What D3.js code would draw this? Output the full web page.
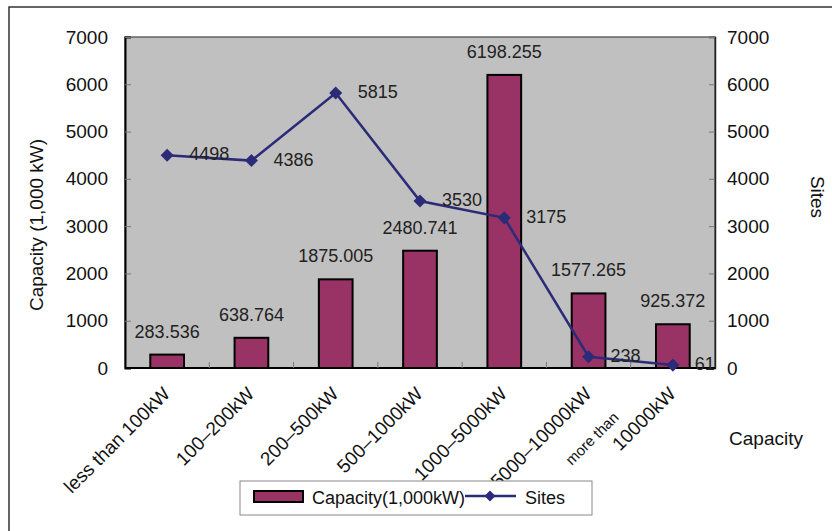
<!DOCTYPE html>
<html>
<head>
<meta charset="utf-8">
<script src="https://cdn.jsdelivr.net/npm/d3@7"></script>
<style>
  html, body { margin: 0; padding: 0; background: #fff; }
  svg { display: block; font-family: "Liberation Sans", Arial, sans-serif; }
</style>
</head>
<body>
<svg id="chart" width="832" height="531"></svg>
<script>
// Capacity classes (x axis)
const categories = ["less than 100kW", "100–200kW", "200–500kW", "500–1000kW",
                    "1000–5000kW", "5000–10000kW", "more than 10000kW"];
// Installed capacity per class, in 1,000 kW (bars, left axis)
const capacity = [283.536, 638.764, 1875.005, 2480.741, 6198.255, 1577.265, 925.372];
// Number of sites per class (line, right axis)
const sites = [4498, 4386, 5815, 3530, 3175, 238, 61];
// Shared tick values for both value axes
const tickValues = [0, 1000, 2000, 3000, 4000, 5000, 6000, 7000];

const svg = d3.select("#chart");
const plot = { left: 125, top: 37, right: 715, bottom: 368 };
const barColor = "#993366";
const lineColor = "#2b2b78";

// Outer chart frame (left and top edges fall inside the canvas)
svg.append("rect")
  .attr("x", 9).attr("y", 7).attr("width", 900).attr("height", 600)
  .attr("fill", "#fff").attr("stroke", "#333").attr("stroke-width", 1.5);

const x = d3.scaleBand().domain(categories).range([plot.left, plot.right]).padding(0);
const yL = d3.scaleLinear().domain([0, 7000]).range([plot.bottom, plot.top]);
const yR = d3.scaleLinear().domain([0, 7000]).range([plot.bottom, plot.top]);

// Plot area
svg.append("rect")
  .attr("x", plot.left).attr("y", plot.top)
  .attr("width", plot.right - plot.left).attr("height", plot.bottom - plot.top)
  .attr("fill", "#c0c0c0").attr("stroke", "#444").attr("stroke-width", 1.2);

// Left axis: inward ticks, labels outside
const leftAxis = svg.append("g").attr("transform", `translate(${plot.left},0)`)
  .call(d3.axisLeft(yL).tickValues(tickValues).tickSize(-6).tickPadding(17).tickFormat(d3.format("d")));
leftAxis.select(".domain").attr("stroke", "#000").attr("stroke-width", 2);
leftAxis.selectAll(".tick line").attr("stroke", "#777");
leftAxis.selectAll(".tick text").attr("font-size", 19).attr("fill", "#111")
  .attr("font-family", "Liberation Sans, Arial, sans-serif");

// Right axis
const rightAxis = svg.append("g").attr("transform", `translate(${plot.right},0)`)
  .call(d3.axisRight(yR).tickValues(tickValues).tickSize(-6).tickPadding(12).tickFormat(d3.format("d")));
rightAxis.select(".domain").attr("stroke", "#222").attr("stroke-width", 1.5);
rightAxis.selectAll(".tick line").attr("stroke", "#777");
rightAxis.selectAll(".tick text").attr("font-size", 19).attr("fill", "#111")
  .attr("font-family", "Liberation Sans, Arial, sans-serif");

// Bars
const barW = x.bandwidth() * 0.4;
svg.append("g").selectAll("rect").data(capacity).join("rect")
  .attr("x", (d, i) => x(categories[i]) + (x.bandwidth() - barW) / 2)
  .attr("y", d => yL(d))
  .attr("width", barW)
  .attr("height", d => yL(0) - yL(d))
  .attr("fill", barColor).attr("stroke", "#000").attr("stroke-width", 2);

// Bottom axis: ticks between categories, pointing up
const bottom = svg.append("g");
bottom.append("line")
  .attr("x1", plot.left).attr("x2", plot.right)
  .attr("y1", plot.bottom).attr("y2", plot.bottom)
  .attr("stroke", "#000").attr("stroke-width", 2);
bottom.selectAll("line.sep").data(categories.slice(1)).join("line")
  .attr("class", "sep")
  .attr("x1", d => x(d)).attr("x2", d => x(d))
  .attr("y1", plot.bottom).attr("y2", plot.bottom - 6)
  .attr("stroke", "#777");

// Category labels, rotated -45°
categories.forEach((c, i) => {
  const cx = x(c) + x.bandwidth() / 2;
  const g = svg.append("g").attr("transform", `translate(${cx + 4},${plot.bottom + 27}) rotate(-45)`);
  if (c.startsWith("more than ")) {
    g.append("text").attr("text-anchor", "end").attr("font-size", 19).attr("fill", "#111")
      .text(c.slice("more than ".length));
    g.append("text").attr("text-anchor", "end").attr("font-size", 15).attr("fill", "#111")
      .attr("x", -57).attr("y", -24).text("more than");
  } else {
    g.append("text").attr("text-anchor", "end").attr("font-size", 19).attr("fill", "#111").text(c);
  }
});

// Sites line with diamond markers
const line = d3.line()
  .x((d, i) => x(categories[i]) + x.bandwidth() / 2)
  .y(d => yR(d));
svg.append("path").datum(sites)
  .attr("d", line).attr("fill", "none").attr("stroke", lineColor).attr("stroke-width", 2.5);
const diamond = d3.symbol().type(d3.symbolSquare).size(85);
svg.append("g").selectAll("path").data(sites).join("path")
  .attr("d", diamond)
  .attr("transform", (d, i) => `translate(${x(categories[i]) + x.bandwidth() / 2},${yR(d)}) rotate(45)`)
  .attr("fill", lineColor);

// Bar value labels
svg.append("g").selectAll("text").data(capacity).join("text")
  .attr("x", (d, i) => x(categories[i]) + x.bandwidth() / 2)
  .attr("y", d => yL(d) - 17)
  .attr("text-anchor", "middle").attr("font-size", 18).attr("fill", "#222")
  .text(d => d3.format(".3f")(d));

// Site value labels, to the right of each marker
svg.append("g").selectAll("text").data(sites).join("text")
  .attr("x", (d, i) => x(categories[i]) + x.bandwidth() / 2 + 22)
  .attr("y", d => yR(d) + 5)
  .attr("font-size", 18).attr("fill", "#222")
  .text(d => d);

// Axis titles
svg.append("text")
  .attr("transform", "translate(43,225) rotate(-90)")
  .attr("text-anchor", "middle").attr("font-size", 19).attr("fill", "#111")
  .text("Capacity (1,000 kW)");
svg.append("text")
  .attr("transform", "translate(811,197) rotate(90)")
  .attr("text-anchor", "middle").attr("font-size", 19).attr("fill", "#111")
  .text("Sites");
svg.append("text")
  .attr("x", 766).attr("y", 445)
  .attr("text-anchor", "middle").attr("font-size", 19).attr("fill", "#111")
  .text("Capacity");

// Legend
const lg = svg.append("g");
lg.append("rect").attr("x", 240).attr("y", 481).attr("width", 352).attr("height", 34)
  .attr("fill", "#fff").attr("stroke", "#888").attr("stroke-width", 1);
lg.append("rect").attr("x", 254).attr("y", 491).attr("width", 49).attr("height", 11)
  .attr("fill", barColor).attr("stroke", "#000").attr("stroke-width", 2);
lg.append("text").attr("x", 312).attr("y", 504).attr("font-size", 18).attr("fill", "#111")
  .text("Capacity(1,000kW)");
lg.append("line").attr("x1", 465).attr("x2", 516).attr("y1", 496).attr("y2", 496)
  .attr("stroke", lineColor).attr("stroke-width", 2.5);
lg.append("path").attr("d", d3.symbol().type(d3.symbolSquare).size(60))
  .attr("transform", "translate(490,496) rotate(45)").attr("fill", lineColor);
lg.append("text").attr("x", 525).attr("y", 504).attr("font-size", 18).attr("fill", "#111")
  .text("Sites");
</script>
</body>
</html>
